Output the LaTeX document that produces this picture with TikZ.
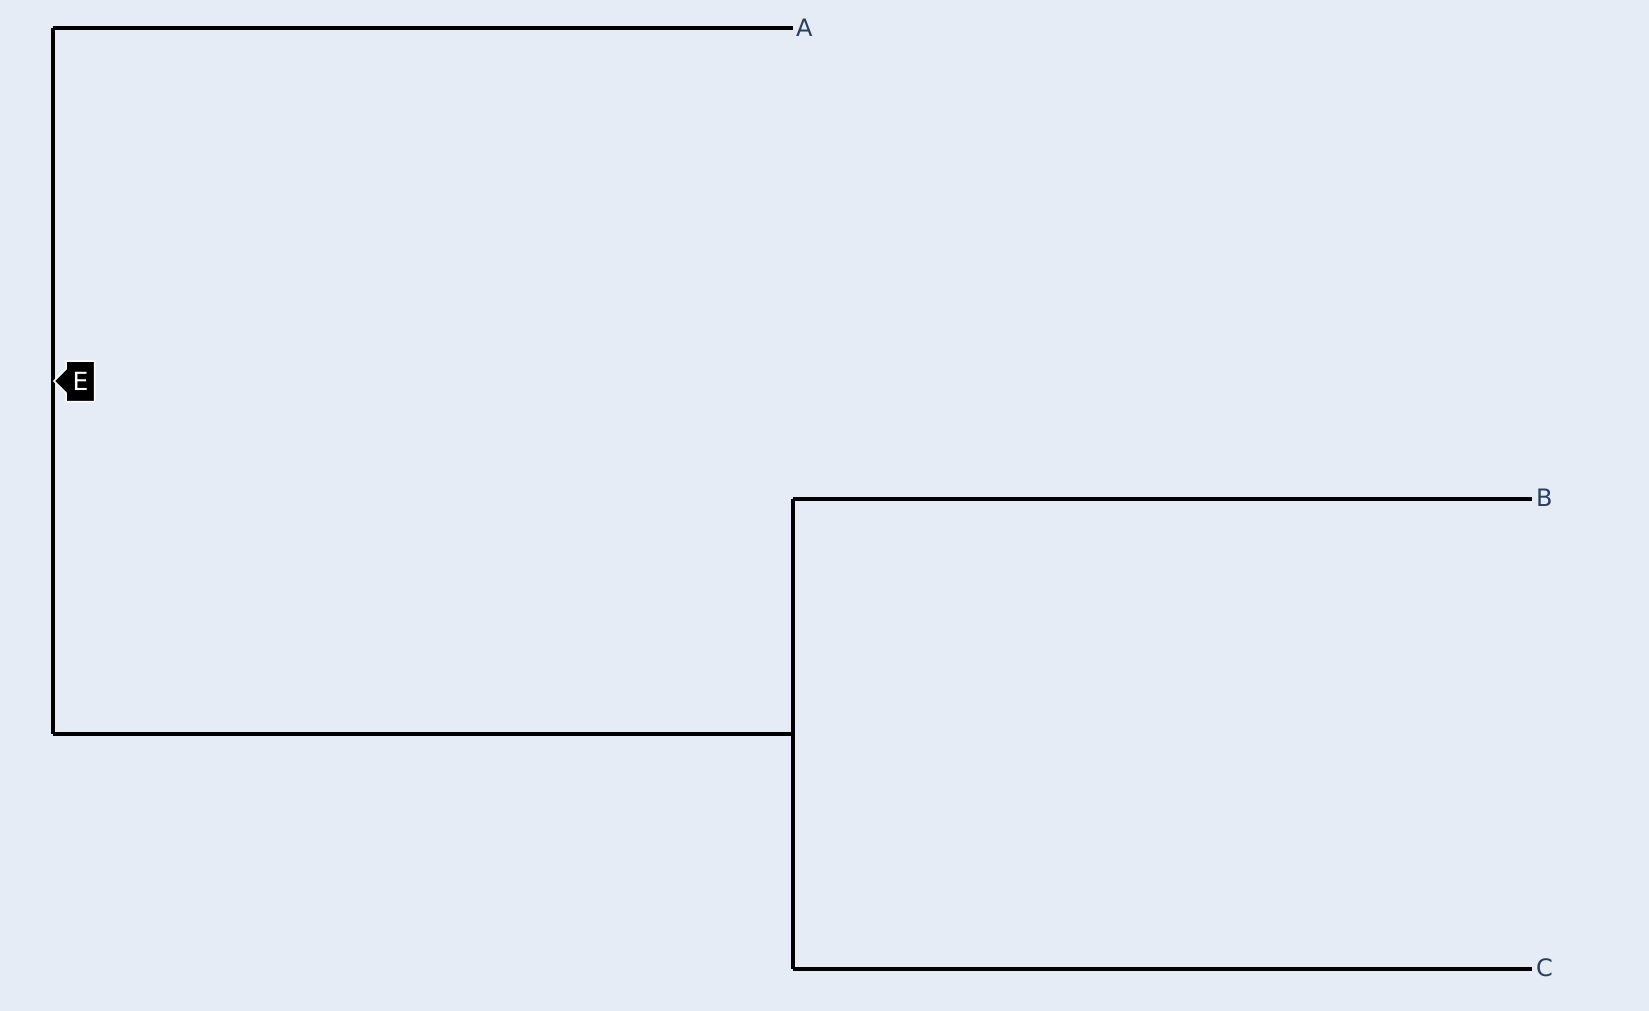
\documentclass[tikz,border=0pt]{standalone}
\usepackage{fontspec}
\setmainfont{DejaVu Sans}
\definecolor{bg}{HTML}{E5ECF6}
\definecolor{txt}{HTML}{2A3F5F}
\begin{document}
\begin{tikzpicture}[x=1pt,y=-1pt,
  branch/.style={line width=4pt,black},
  leaf/.style={anchor=west,inner sep=0pt,text=txt,font=\fontsize{24}{24}\selectfont},
]
\fill[bg] (0,0) rectangle (1649,1011);
\useasboundingbox (0,0) rectangle (1649,1011);
% internal coordinates
\coordinate (rootT) at (52.5,28.4);
\coordinate (rootB) at (52.5,734);
\coordinate (inT) at (792.5,499.2);
\coordinate (inM) at (792.5,734);
\coordinate (inB) at (792.5,969.3);
\coordinate (endA) at (792.5,28.4);
\coordinate (endB) at (1532,499.2);
\coordinate (endC) at (1532,969.3);
% leaf labels
\node[leaf] (A) at (796,27.5) {A};
\node[leaf] (B) at (1536,497.5) {B};
\node[leaf] (C) at (1536,968) {C};
% branches
\draw[branch] (rootT) -- (rootB);
\draw[branch] (rootT) -- (endA);
\draw[branch] (rootB) -- (inM);
\draw[branch] (inT) -- (inB);
\draw[branch] (inT) -- (endB);
\draw[branch] (inB) -- (endC);
% E label
\draw[white,line width=1.5pt,fill=black] (54,381) -- (66,369) -- (66,361) -- (94.5,361) -- (94.5,401.5) -- (66,401.5) -- (66,393) -- cycle;
\node[text=white,inner sep=0pt,font=\fontsize{25}{25}\selectfont] (E) at (80.5,381) {E};
\end{tikzpicture}
\end{document}
